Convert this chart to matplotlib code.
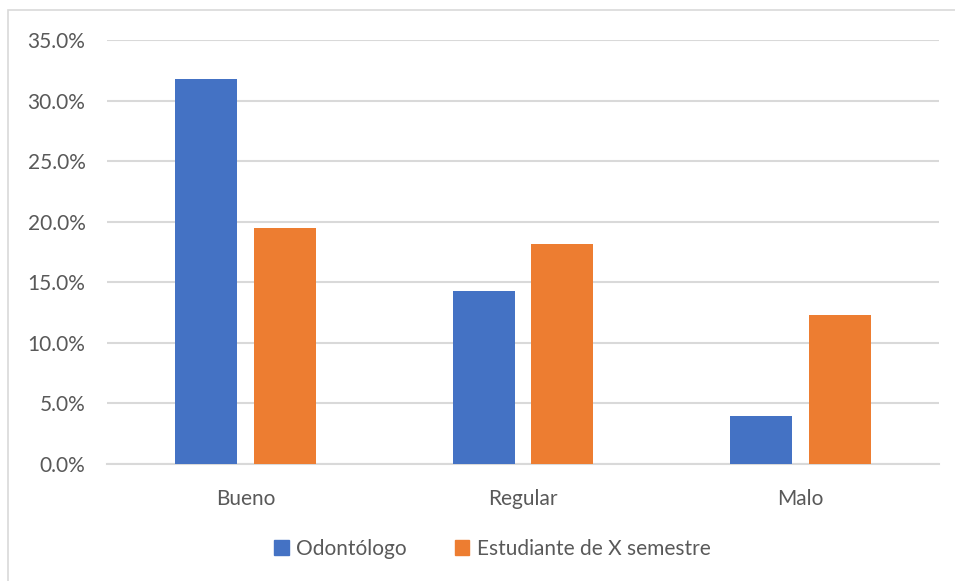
import matplotlib
matplotlib.use("Agg")
import matplotlib.pyplot as plt
from matplotlib.patches import Rectangle, Patch
from matplotlib.ticker import FuncFormatter, MultipleLocator
import numpy as np

categories = ["Bueno", "Regular", "Malo"]
odontologo = [31.8, 14.25, 3.9]
estudiante = [19.45, 18.15, 12.3]
series_names = ["Odontólogo", "Estudiante de X semestre"]

blue = "#4472C4"
orange = "#ED7D31"
text_col = "#595959"
grid_col = "#D9D9D9"

plt.rcParams['font.family'] = ['Lato', 'DejaVu Sans']

W, H = 955, 581
fig = plt.figure(figsize=(W / 100, H / 100), dpi=100)
fig.patch.set_facecolor("white")

# outer chart border (only top/left visible)
fig.patches.append(Rectangle((8 / W, -0.1), 1.2, 1 - 10 / H + 0.1,
                             transform=fig.transFigure, fill=False,
                             edgecolor="#D9D9D9", linewidth=1.2))

ax = fig.add_axes([107 / W, 1 - 463.7 / H, (939 - 107) / W, (463.7 - 40) / H])
x = np.arange(len(categories))
w = 0.224
off = 0.142
ax.bar(x - off, odontologo, w, color=blue, zorder=3)
ax.bar(x + off, estudiante, w, color=orange, zorder=3)

ax.set_xlim(-0.5, 2.5)
ax.set_ylim(0, 35)
ax.yaxis.set_major_locator(MultipleLocator(5))
ax.yaxis.set_major_formatter(FuncFormatter(lambda v, p: f"{v:.1f}%"))
ax.grid(axis="y", color=grid_col, linewidth=1.5, zorder=0)
ax.set_axisbelow(True)
for s in ["top", "right", "left"]:
    ax.spines[s].set_visible(False)
ax.spines["bottom"].set_color(grid_col)
ax.spines["bottom"].set_linewidth(1.5)
ax.set_xticks(x)
ax.set_xticklabels(categories)
ax.tick_params(axis="both", length=0, labelsize=15, colors=text_col)
ax.tick_params(axis="x", pad=18)
ax.tick_params(axis="y", pad=15.5)

handles = [Patch(color=blue), Patch(color=orange)]
leg = fig.legend(handles, series_names, loc="center", bbox_to_anchor=(492.5 / W, 1 - 549 / H),
                 ncol=2, frameon=False, fontsize=15, handlelength=0.7, handleheight=0.7,
                 handletextpad=0.35, columnspacing=2.3, labelcolor=text_col)

fig.savefig("out.png", dpi=100, facecolor="white")
